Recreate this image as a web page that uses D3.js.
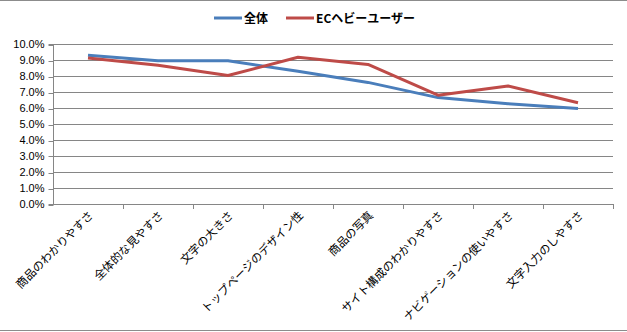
<!DOCTYPE html>
<html>
<head>
<meta charset="utf-8">
<script src="https://cdn.jsdelivr.net/npm/d3@7"></script>
<style>
  html, body { margin: 0; padding: 0; background: #fff; }
  svg { display: block; }
</style>
</head>
<body>
<svg id="chart" width="627" height="332"></svg>
<script>
// Categories along the x axis
const categories = [
  "商品のわかりやすさ",
  "全体的な見やすさ",
  "文字の大きさ",
  "トップページのデザイン性",
  "商品の写真",
  "サイト構成のわかりやすさ",
  "ナビゲーションの使いやすさ",
  "文字入力のしやすさ"
];

// Share (%) per category for each respondent group
const seriesNames = ["全体", "ECヘビーユーザー"];
const valuesAll = [9.3, 8.95, 8.95, 8.3, 7.6, 6.65, 6.27, 5.97];
const valuesHeavy = [9.13, 8.67, 8.03, 9.17, 8.72, 6.8, 7.38, 6.33];

// Y axis ticks
const yTicks = [0, 1, 2, 3, 4, 5, 6, 7, 8, 9, 10];

const colors = ["#4a7ebb", "#be4b48"];
const series = [valuesAll, valuesHeavy];

const W = 627, H = 332;
const plot = { left: 53, right: 613, top: 44, bottom: 204 };

const svg = d3.select("#chart");

// Outer frame lines
svg.append("line").attr("x1", 0).attr("x2", W).attr("y1", 0.5).attr("y2", 0.5)
  .attr("stroke", "#8c8c8c");
svg.append("line").attr("x1", 0).attr("x2", W).attr("y1", H - 1.5).attr("y2", H - 1.5)
  .attr("stroke", "#8c8c8c");

const x = d3.scaleBand().domain(categories).range([plot.left, plot.right]);
const y = d3.scaleLinear().domain([0, 10]).range([plot.bottom, plot.top]);

// Horizontal gridlines
svg.append("g").selectAll("line").data(yTicks.filter(t => t > 0)).join("line")
  .attr("x1", plot.left).attr("x2", plot.right)
  .attr("y1", d => Math.round(y(d)) + 0.5).attr("y2", d => Math.round(y(d)) + 0.5)
  .attr("stroke", "#868686").attr("stroke-width", 1);

// Y axis
const yAxis = d3.axisLeft(y).tickValues(yTicks).tickSize(5).tickPadding(4)
  .tickFormat(d => d.toFixed(1) + "%");
const gy = svg.append("g").attr("transform", `translate(${plot.left + 0.5},0)`).call(yAxis);
gy.select(".domain").attr("stroke", "#868686").attr("d", `M-5,${plot.bottom + 0.5}H0V${plot.top + 0.5}H-5`);
gy.selectAll(".tick line").attr("stroke", "#868686")
  .attr("transform", function () {
    const t = d3.select(this.parentNode).attr("transform");
    const yy = +t.match(/,([\d.\-]+)/)[1];
    return `translate(0,${Math.round(yy) + 0.5 - yy})`;
  });
gy.selectAll(".tick text")
  .attr("font-family", "Liberation Sans, Arial, sans-serif")
  .attr("font-size", 11).attr("fill", "#000");

// X axis baseline with tick marks at category boundaries
const gx = svg.append("g");
gx.append("line")
  .attr("x1", plot.left).attr("x2", plot.right + 0.5)
  .attr("y1", plot.bottom + 0.5).attr("y2", plot.bottom + 0.5)
  .attr("stroke", "#868686");
const boundaries = categories.map(c => x(c) + x.bandwidth()).concat([]);
gx.selectAll("line.tk").data(boundaries).join("line").attr("class", "tk")
  .attr("x1", d => Math.round(d) + 0.5).attr("x2", d => Math.round(d) + 0.5)
  .attr("y1", plot.bottom).attr("y2", plot.bottom + 5)
  .attr("stroke", "#868686");

// Rotated category labels
gx.selectAll("text").data(categories).join("text")
  .attr("transform", d => `translate(${x(d) + x.bandwidth() / 2 + 6},${plot.bottom + 12}) rotate(-45)`)
  .attr("text-anchor", "end")
  .attr("font-family", "Noto Sans CJK JP, sans-serif")
  .attr("font-size", 11.5)
  .attr("fill", "#000")
  .text(d => d);

// Series lines
const line = d3.line()
  .x((d, i) => x(categories[i]) + x.bandwidth() / 2)
  .y(d => y(d));

series.forEach((vals, i) => {
  svg.append("path").datum(vals)
    .attr("d", line)
    .attr("fill", "none")
    .attr("stroke", colors[i])
    .attr("stroke-width", 3)
    .attr("stroke-linejoin", "round");
});

// Legend
const legend = svg.append("g").attr("transform", "translate(214,18)");
const legendX = [0, 72];
seriesNames.forEach((name, i) => {
  const g = legend.append("g").attr("transform", `translate(${legendX[i]},0)`);
  g.append("line").attr("x1", 0).attr("x2", 28).attr("y1", 0).attr("y2", 0)
    .attr("stroke", colors[i]).attr("stroke-width", 3);
  g.append("text").attr("x", 30).attr("y", 4.5)
    .attr("font-family", "Noto Sans CJK JP, sans-serif")
    .attr("font-weight", "bold")
    .attr("font-size", 12)
    .attr("fill", "#000")
    .text(name);
});
</script>
</body>
</html>
